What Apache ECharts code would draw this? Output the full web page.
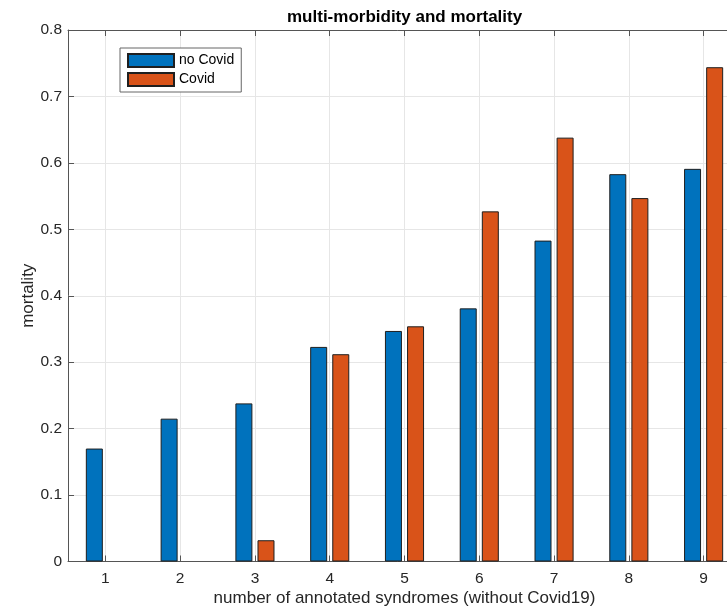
<!DOCTYPE html>
<html>
<head>
<meta charset="utf-8">
<script src="https://cdn.jsdelivr.net/npm/echarts@6/dist/echarts.min.js"></script>
<style>
  html, body { margin: 0; padding: 0; background: #fff; }
  #chart { width: 727px; height: 608px; }
</style>
</head>
<body>
<div id="chart"></div>
<script>
var categories = ['1', '2', '3', '4', '5', '6', '7', '8', '9'];
var noCovid = [0.170, 0.215, 0.238, 0.323, 0.347, 0.381, 0.483, 0.583, 0.591];
var covid = [0, 0, 0.032, 0.312, 0.354, 0.527, 0.638, 0.547, 0.744];
var yTicks = [0, 0.1, 0.2, 0.3, 0.4, 0.5, 0.6, 0.7, 0.8];

var FONT = "'Liberation Sans', Arial, Helvetica, sans-serif";
var TXT = '#262626';
var AX = '#555555';
var GRID = '#e6e6e6';
var EDGE = '#1f1f1f';

function barData(values) {
  return values.map(function (v) {
    return v === 0 ? { value: v, itemStyle: { borderWidth: 0 } } : v;
  });
}

var chart = echarts.init(document.getElementById('chart'), null, { renderer: 'canvas' });
chart.setOption({
  backgroundColor: '#ffffff',
  animation: false,
  textStyle: { fontFamily: FONT, color: TXT },
  title: {
    text: 'multi-morbidity and mortality',
    left: 287,
    top: 9,
    padding: 0,
    textStyle: { fontFamily: FONT, fontSize: 17, fontWeight: 'bold', color: '#000' }
  },
  legend: {
    orient: 'vertical',
    left: 120,
    top: 48,
    padding: [5, 7, 5, 7],
    itemGap: 4,
    itemWidth: 46,
    itemHeight: 13,
    icon: 'rect',
    borderColor: '#666',
    borderWidth: 1,
    backgroundColor: '#fff',
    textStyle: { fontFamily: FONT, fontSize: 14, color: '#000' },
    data: ['no Covid', 'Covid']
  },
  grid: { left: 68, top: 30, width: 673, height: 531.5, containLabel: false, outerBoundsMode: 'none' },
  xAxis: [
    {
      type: 'category',
      data: categories,
      position: 'bottom',
      boundaryGap: true,
      name: 'number of annotated syndromes (without Covid19)',
      nameLocation: 'middle',
      nameGap: 28,
      nameMoveOverlap: false,
      nameTextStyle: { fontFamily: FONT, fontSize: 17, color: TXT },
      axisLine: { show: true, lineStyle: { color: AX, width: 1 } },
      axisTick: { show: true, inside: true, length: 6, alignWithLabel: true, lineStyle: { color: AX } },
      axisLabel: { show: true, margin: 9, fontFamily: FONT, fontSize: 15.5, color: TXT },
      splitLine: { show: true, alignWithLabel: true, lineStyle: { color: GRID, width: 1 } }
    },
    {
      type: 'category',
      data: categories,
      position: 'top',
      boundaryGap: true,
      axisLine: { show: true, lineStyle: { color: AX, width: 1 } },
      axisTick: { show: true, inside: true, length: 6, alignWithLabel: true, lineStyle: { color: AX } },
      axisLabel: { show: false },
      splitLine: { show: false }
    }
  ],
  yAxis: {
    type: 'value',
    min: yTicks[0],
    max: yTicks[yTicks.length - 1],
    interval: 0.1,
    name: 'mortality',
    nameLocation: 'middle',
    nameGap: 31,
    nameMoveOverlap: false,
    nameTextStyle: { fontFamily: FONT, fontSize: 17, color: TXT },
    axisLine: { show: true, lineStyle: { color: AX, width: 1 } },
    axisTick: { show: true, inside: true, length: 6, lineStyle: { color: AX } },
    axisLabel: { margin: 6, fontFamily: FONT, fontSize: 15.5, color: TXT },
    splitLine: { show: true, lineStyle: { color: GRID, width: 1 } }
  },
  series: [
    {
      name: 'no Covid',
      type: 'bar',
      xAxisIndex: 0,
      data: barData(noCovid),
      barWidth: 17,
      barGap: '30%',
      itemStyle: { color: '#0072BD', borderColor: EDGE, borderWidth: 1 }
    },
    {
      name: 'Covid',
      type: 'bar',
      xAxisIndex: 0,
      data: barData(covid),
      barWidth: 17,
      barGap: '30%',
      itemStyle: { color: '#D95319', borderColor: EDGE, borderWidth: 1 }
    }
  ]
});
</script>
</body>
</html>
